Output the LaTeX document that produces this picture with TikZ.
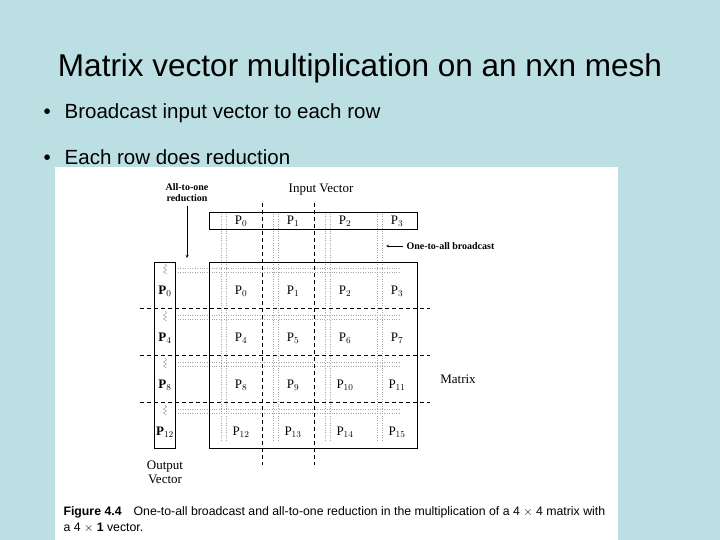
\documentclass[tikz,border=0pt]{standalone}
\usepackage{fontspec}
\setmainfont{Liberation Serif}
\setsansfont{Liberation Sans}
\usetikzlibrary{positioning}
\definecolor{slidebg}{HTML}{BCDFE3}
\begin{document}
\begin{tikzpicture}[x=1pt,y=-1pt,
  cell/.style={font=\fontsize{13}{13}\selectfont},
  outcell/.style={font=\fontsize{13}{13}\selectfont\bfseries},
  mesh/.style={dashed,thick,dash pattern=on 4pt off 3pt},
  flow/.style={dotted,gray!70}]
\fill[slidebg] (0,0) rectangle (720,540);
\useasboundingbox (0,0) rectangle (720,540);
\node[font=\sffamily\fontsize{31.5}{33}\selectfont] (title) at (360,68) {Matrix vector multiplication on an nxn mesh};
\node[anchor=west,font=\sffamily\fontsize{20.5}{22}\selectfont] (b1) at (40,113) {\textbullet\hspace{14pt}Broadcast input vector to each row};
\node[anchor=west,font=\sffamily\fontsize{20.5}{22}\selectfont] (b2) at (40,157) {\textbullet\hspace{14pt}Each row does reduction};
\fill[white] (55,167) rectangle (618,540);
% dotted flows
\foreach \c in {0,1,2,3}{
  \draw[flow] (221+52*\c,214) -- (221+52*\c,440);
  \draw[flow] (226+52*\c,214) -- (226+52*\c,440);
}
\foreach \r in {0,1,2,3}{
  \draw[flow] (178,268+47*\r) -- (400,268+47*\r);
  \draw[flow] (178,272+47*\r) -- (400,272+47*\r);
  \draw[gray] (165,264+47*\r) -- ++(1.5,2) -- ++(-3,2) -- ++(3,2) -- ++(-3,2) -- ++(3,2);
}
% mesh
\foreach \y in {308,355,402}
  \draw[mesh] (140,\y) -- (430,\y);
\foreach \x in {262,314}
  \draw[mesh] (\x,203) -- (\x,465);
% boxes
\draw[semithick] (209,212) rectangle (417,229);
\draw[semithick] (209,262) rectangle (417,448);
\draw[semithick] (154,262) rectangle (175,448);
\foreach \c in {0,1,2,3}
  \node[cell] (in\c) at (241+52*\c,221) {P$_{\c}$};
\foreach \r in {0,1,2,3}{
  \pgfmathtruncatemacro{\k}{4*\r}
  \node[outcell] (out\r) at (165,{291+47*\r}) {P$_{\k}$};
  \foreach \c in {0,1,2,3}{
    \pgfmathtruncatemacro{\n}{4*\r+\c}
    \node[cell] (m\n) at ({241+52*\c},{291+47*\r}) {P$_{\n}$};
  }
}
\node[font=\fontsize{10}{11}\selectfont\bfseries,align=center] (red) at (187,193) {All-to-one\\reduction};
\coordinate (redend) at (187,258);
\draw[->,>=stealth] (red) -- (redend);
\node[font=\fontsize{13}{13}\selectfont] (invec) at (321,190) {Input Vector};
\node[anchor=west,font=\fontsize{10}{11}\selectfont\bfseries] (bc) at (403,246) {One-to-all broadcast};
\coordinate (bcend) at (386,246);
\draw[->,>=stealth] (bc) -- (bcend);
\node[font=\fontsize{13}{13}\selectfont] (mat) at (458,379) {Matrix};
\node[font=\fontsize{13}{14}\selectfont,align=center] (outvec) at (165,472) {Output\\Vector};
\node[anchor=west,font=\sffamily\fontsize{12.3}{16}\selectfont,align=left] (cap) at (60,520)
  {\textbf{Figure 4.4}\hspace{12pt}One-to-all broadcast and all-to-one reduction in the multiplication of a 4 $\times$ 4 matrix with\\a 4 $\times$ \textbf{1} vector.};
\end{tikzpicture}
\end{document}
